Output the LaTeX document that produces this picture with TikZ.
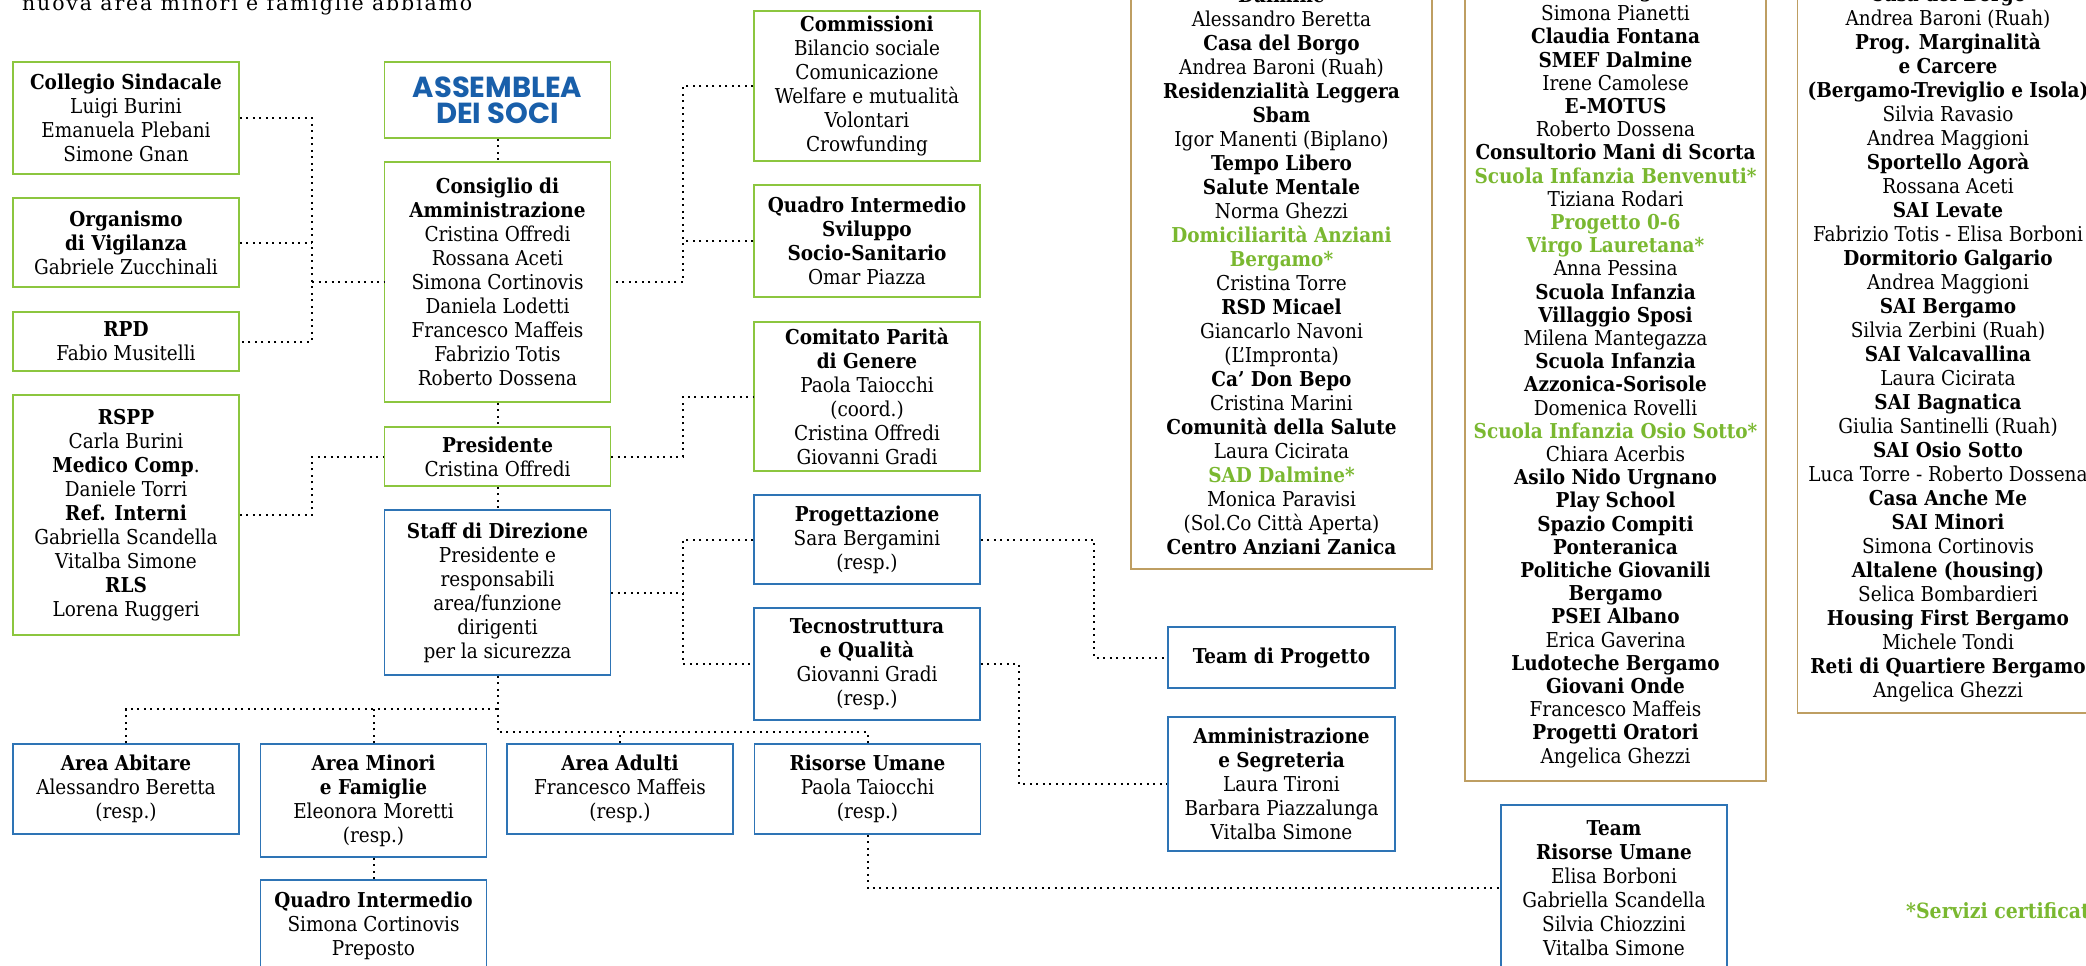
\documentclass[tikz,border=0pt]{standalone}
\usepackage{fontspec}
\setmainfont{DejaVu Serif Condensed}
\newfontfamily\titlefont{Poppins}
\newfontfamily\introfont{DejaVu Serif}[LetterSpace=9]
\definecolor{boxgreen}{RGB}{140,198,63}
\definecolor{boxblue}{RGB}{46,116,181}
\definecolor{boxgold}{RGB}{190,158,98}
\definecolor{txtgreen}{RGB}{122,184,48}
\definecolor{txtblue}{RGB}{25,95,170}
\newcommand{\hd}[1]{\textbf{#1}}
\newcommand{\gr}[1]{\textcolor{txtgreen}{\textbf{#1}}}
\tikzset{
  box/.style={draw, line width=1.5pt, align=center, inner sep=0pt,
    minimum width=226pt, font=\fontsize{20.5}{24}\selectfont},
  greenbox/.style={box, draw=boxgreen},
  bluebox/.style={box, draw=boxblue},
  goldbox/.style={box, draw=boxgold, minimum width=301pt},
  link/.style={line width=2pt, dash pattern=on 2pt off 4.5pt},
}
\begin{document}
\begin{tikzpicture}[x=1pt, y=-1pt]
      \useasboundingbox (0,0) rectangle (2086,966);
      \clip (0,0) rectangle (2086,966);
      \fill[white] (0,0) rectangle (2086,966);
      \node[anchor=base west, inner sep=0pt, font=\introfont\fontsize{20.5}{24}\selectfont]
        (intro) at (22,11) {nuova area minori e famiglie abbiamo};
      % organi di controllo
      \node[greenbox, minimum height=112pt] (collegio) at (126,118)
        {\hd{Collegio Sindacale}\\ Luigi Burini\\ Emanuela Plebani\\ Simone Gnan};
      \node[greenbox, minimum height=89pt] (organismo) at (126,242.5)
        {\hd{Organismo}\\ \hd{di Vigilanza}\\ Gabriele Zucchinali};
      \node[greenbox, minimum height=59pt] (rpd) at (126,341.5)
        {\hd{RPD}\\ Fabio Musitelli};
      \node[greenbox, minimum height=240pt] (rspp) at (126,515)
        {\hd{RSPP}\\ Carla Burini\\ \hd{Medico Comp}.\\ Daniele Torri\\ \hd{Ref. Interni}\\
         Gabriella Scandella\\ Vitalba Simone\\ \hd{RLS}\\ Lorena Ruggeri};
      % governo
      \node[greenbox, minimum height=76pt, font=\titlefont\bfseries\fontsize{29}{26}\selectfont,
        text=txtblue] (assemblea) at (497.5,100) {ASSEMBLEA\\ DEI SOCI};
      \node[greenbox, minimum height=240pt] (consiglio) at (497.5,282)
        {\hd{Consiglio di}\\ \hd{Amministrazione}\\ Cristina Offredi\\ Rossana Aceti\\
         Simona Cortinovis\\ Daniela Lodetti\\ Francesco Maffeis\\ Fabrizio Totis\\ Roberto Dossena};
      \node[greenbox, minimum height=59pt] (presidente) at (497.5,456.5)
        {\hd{Presidente}\\ Cristina Offredi};
      \node[bluebox, minimum height=165pt] (staff) at (497.5,592.5)
        {\hd{Staff di Direzione}\\ Presidente e\\ responsabili\\ area/funzione\\ dirigenti\\ per la sicurezza};
      % commissioni e comitati
      \node[greenbox, minimum height=150pt] (commissioni) at (867,86)
        {\hd{Commissioni}\\ Bilancio sociale\\ Comunicazione\\ Welfare e mutualità\\ Volontari\\ Crowfunding};
      \node[greenbox, minimum height=112pt] (quadrosvil) at (867,241)
        {\hd{Quadro Intermedio}\\ \hd{Sviluppo}\\ \hd{Socio-Sanitario}\\ Omar Piazza};
      \node[greenbox, minimum height=149pt] (comitato) at (867,396.5)
        {\hd{Comitato Parità}\\ \hd{di Genere}\\ Paola Taiocchi\\ (coord.)\\ Cristina Offredi\\ Giovanni Gradi};
      \node[bluebox, minimum height=89pt] (progettazione) at (867,539.5)
        {\hd{Progettazione}\\ Sara Bergamini\\ (resp.)};
      \node[bluebox, minimum height=112pt] (tecno) at (867,664)
        {\hd{Tecnostruttura}\\ \hd{e Qualità}\\ Giovanni Gradi\\ (resp.)};
      \node[bluebox, minimum width=227pt, minimum height=61pt] (teamprog) at (1281.5,657.5)
        {\hd{Team di Progetto}};
      \node[bluebox, minimum width=227pt, minimum height=134pt] (amministr) at (1281.5,784)
        {\hd{Amministrazione}\\ \hd{e Segreteria}\\ Laura Tironi\\ Barbara Piazzalunga\\ Vitalba Simone};
      % aree
      \node[bluebox, minimum height=90pt] (abitare) at (126,789)
        {\hd{Area Abitare}\\ Alessandro Beretta\\ (resp.)};
      \node[bluebox, minimum height=113pt] (minori) at (373.5,800.5)
        {\hd{Area Minori}\\ \hd{e Famiglie}\\ Eleonora Moretti\\ (resp.)};
      \node[bluebox, minimum height=92pt] (quadromin) at (373.5,926)
        {\hd{Quadro Intermedio}\\ Simona Cortinovis\\ Preposto};
      \node[bluebox, minimum height=90pt] (adulti) at (620,789)
        {\hd{Area Adulti}\\ Francesco Maffeis\\ (resp.)};
      \node[bluebox, minimum height=90pt] (risorse) at (867.5,789)
        {\hd{Risorse Umane}\\ Paola Taiocchi\\ (resp.)};
      \node[bluebox, minimum height=166pt] (teamru) at (1614,888)
        {\hd{Team}\\ \hd{Risorse Umane}\\ Elisa Borboni\\ Gabriella Scandella\\ Silvia Chiozzini\\ Vitalba Simone};
      % servizi
      \node[goldbox, minimum height=596pt] (servizi1) at (1281.5,271)
        {\hd{Dalmine}\\ Alessandro Beretta\\ \hd{Casa del Borgo}\\ Andrea Baroni (Ruah)\\
         \hd{Residenzialità Leggera}\\ \hd{Sbam}\\ Igor Manenti (Biplano)\\ \hd{Tempo Libero}\\
         \hd{Salute Mentale}\\ Norma Ghezzi\\ \gr{Domiciliarità Anziani}\\ \gr{Bergamo*}\\
         Cristina Torre\\ \hd{RSD Micael}\\ Giancarlo Navoni\\ (L’Impronta)\\ \hd{Ca’ Don Bepo}\\
         Cristina Marini\\ \hd{Comunità della Salute}\\ Laura Cicirata\\ \gr{SAD Dalmine*}\\
         Monica Paravisi\\ (Sol.Co Città Aperta)\\ \hd{Centro Anziani Zanica}};
      \node[goldbox, minimum height=812pt, font=\fontsize{20.5}{23.2}\selectfont] (servizi2) at (1615.5,375)
        {\hd{SMEF Bergamo}\\ Simona Pianetti\\ \hd{Claudia Fontana}\\ \hd{SMEF Dalmine}\\
         Irene Camolese\\ \hd{E-MOTUS}\\ Roberto Dossena\\ \hd{Consultorio Mani di Scorta}\\
         \gr{Scuola Infanzia Benvenuti*}\\ Tiziana Rodari\\ \gr{Progetto 0-6}\\ \gr{Virgo Lauretana*}\\
         Anna Pessina\\ \hd{Scuola Infanzia}\\ \hd{Villaggio Sposi}\\ Milena Mantegazza\\
         \hd{Scuola Infanzia}\\ \hd{Azzonica-Sorisole}\\ Domenica Rovelli\\
         \gr{Scuola Infanzia Osio Sotto*}\\ Chiara Acerbis\\ \hd{Asilo Nido Urgnano}\\
         \hd{Play School}\\ \hd{Spazio Compiti}\\ \hd{Ponteranica}\\ \hd{Politiche Giovanili}\\
         \hd{Bergamo}\\ \hd{PSEI Albano}\\ Erica Gaverina\\ \hd{Ludoteche Bergamo}\\
         \hd{Giovani Onde}\\ Francesco Maffeis\\ \hd{Progetti Oratori}\\ Angelica Ghezzi};
      \node[goldbox, minimum height=738pt] (servizi3) at (1948,344)
        {\hd{Casa del Borgo}\\ Andrea Baroni (Ruah)\\ \hd{Prog. Marginalità}\\ \hd{e Carcere}\\
         \hd{(Bergamo-Treviglio e Isola)}\\ Silvia Ravasio\\ Andrea Maggioni\\ \hd{Sportello Agorà}\\
         Rossana Aceti\\ \hd{SAI Levate}\\ Fabrizio Totis - Elisa Borboni\\ \hd{Dormitorio Galgario}\\
         Andrea Maggioni\\ \hd{SAI Bergamo}\\ Silvia Zerbini (Ruah)\\ \hd{SAI Valcavallina}\\
         Laura Cicirata\\ \hd{SAI Bagnatica}\\ Giulia Santinelli (Ruah)\\ \hd{SAI Osio Sotto}\\
         Luca Torre - Roberto Dossena\\ \hd{Casa Anche Me}\\ \hd{SAI Minori}\\ Simona Cortinovis\\
         \hd{Altalene (housing)}\\ Selica Bombardieri\\ \hd{Housing First Bergamo}\\ Michele Tondi\\
         \hd{Reti di Quartiere Bergamo}\\ Angelica Ghezzi};
      \node[anchor=base west, inner sep=0pt, font=\fontsize{21}{24}\selectfont]
        (nota) at (1906,918) {\gr{*Servizi certificati}};
      % collegamenti
      \coordinate (busL) at (312,0);
      \coordinate (busR) at (683,0);
      \coordinate (busT) at (1019,0);
      \coordinate (busP) at (1094,0);
      \coordinate (rowA) at (0,709);
      \coordinate (rowB) at (0,732);
      \begin{scope}[link]
        \draw (collegio.east) -- (collegio.east -| busL) -- (rpd.east -| busL) -- (rpd.east);
        \draw (organismo.east) -- (organismo.east -| busL);
        \draw (consiglio.west -| busL) -- (consiglio.west);
        \draw (rspp.east) -- (rspp.east -| busL) -- (presidente.west -| busL) -- (presidente.west);
        \draw (assemblea.south) -- (consiglio.north);
        \draw (consiglio.south) -- (presidente.north);
        \draw (presidente.south) -- (staff.north);
        \draw (commissioni.west) -- (commissioni.west -| busR) -- (consiglio.east -| busR) -- (consiglio.east);
        \draw (quadrosvil.west) -- (quadrosvil.west -| busR);
        \draw (presidente.east) -- (presidente.east -| busR) -- (comitato.west -| busR) -- (comitato.west);
        \draw (progettazione.west) -- (progettazione.west -| busR) -- (tecno.west -| busR) -- (tecno.west);
        \draw (staff.east) -- (staff.east -| busR);
        \draw (progettazione.east) -- (progettazione.east -| busP) -- (teamprog.west -| busP) -- (teamprog.west);
        \draw (tecno.east) -- (tecno.east -| busT) -- (amministr.west -| busT) -- (amministr.west);
        \draw (staff.south) -- (staff.south |- rowB) -- (risorse.north |- rowB) -- (risorse.north);
        \draw (abitare.north) -- (abitare.north |- rowA) -- (staff.south |- rowA);
        \draw (minori.north) -- (minori.north |- rowA);
        \draw (adulti.north) -- (adulti.north |- rowB);
        \draw (minori.south) -- (quadromin.north);
        \draw (risorse.south) |- (teamru.west);
      \end{scope}
    \end{tikzpicture}
\end{document}
